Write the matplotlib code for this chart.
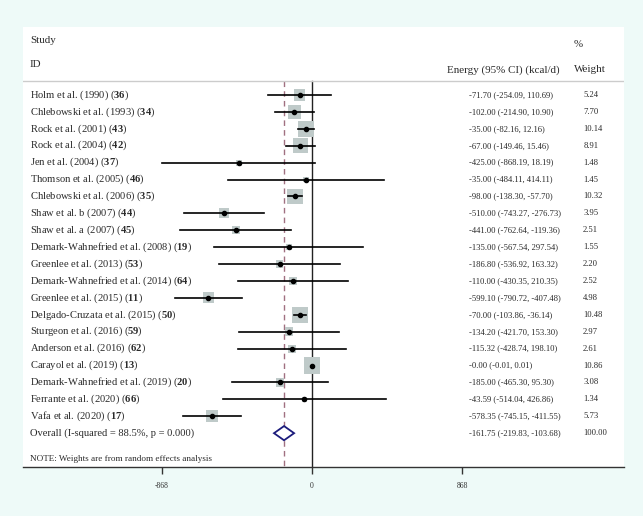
import matplotlib
matplotlib.use("Agg")
import matplotlib.pyplot as plt
import matplotlib.transforms as mtransforms

plt.rcParams['font.family'] = ['Liberation Serif', 'DejaVu Serif']
plt.rcParams['mathtext.fontset'] = 'custom'
plt.rcParams['mathtext.rm'] = 'Liberation Serif'
plt.rcParams['mathtext.bf'] = 'Liberation Serif:bold'

# study labels and reference numbers
studies = ["Holm et al. (1990)", "Chlebowski et al. (1993)", "Rock et al. (2001)",
           "Rock et al. (2004)", "Jen et al. (2004)", "Thomson et al. (2005)",
           "Chlebowski et al. (2006)", "Shaw et al. b (2007)", "Shaw et al. a (2007)",
           "Demark-Wahnefried et al. (2008)", "Greenlee et al. (2013)",
           "Demark-Wahnefried et al. (2014)", "Greenlee et al. (2015)",
           "Delgado-Cruzata et al. (2015)", "Sturgeon et al. (2016)",
           "Anderson et al. (2016)", "Carayol et al. (2019)",
           "Demark-Wahnefried et al. (2019)", "Ferrante et al. (2020)", "Vafa et al. (2020)"]
refs = ["36", "34", "43", "42", "37", "46", "35", "44", "45", "19",
        "53", "64", "11", "50", "59", "62", "13", "20", "66", "17"]

es = [-71.70, -102.00, -35.00, -67.00, -425.00, -35.00, -98.00, -510.00, -441.00, -135.00,
      -186.80, -110.00, -599.10, -70.00, -134.20, -115.32, -0.00, -185.00, -43.59, -578.35]
lo = [-254.09, -214.90, -82.16, -149.46, -868.19, -484.11, -138.30, -743.27, -762.64, -567.54,
      -536.92, -430.35, -790.72, -103.86, -421.70, -428.74, -0.01, -465.30, -514.04, -745.15]
hi = [110.69, 10.90, 12.16, 15.46, 18.19, 414.11, -57.70, -276.73, -119.36, 297.54,
      163.32, 210.35, -407.48, -36.14, 153.30, 198.10, 0.01, 95.30, 426.86, -411.55]
weights = [5.24, 7.70, 10.14, 8.91, 1.48, 1.45, 10.32, 3.95, 2.51, 1.55,
           2.20, 2.52, 4.98, 10.48, 2.97, 2.61, 10.86, 3.08, 1.34, 5.73]

overall_es, overall_lo, overall_hi = -161.75, -219.83, -103.68
overall_label = "Overall (I-squared = 88.5%, p = 0.000)"
xticks = [-868, 0, 868]

bg = '#eefaf8'
txt = '#2a2a2a'
fig = plt.figure(figsize=(6.43, 5.16), dpi=100, facecolor=bg)
ax = fig.add_axes([23 / 643, (516 - 467) / 516, 601 / 643, 440 / 516])
ax.set_facecolor('white')
ax.set_xlim(-1672, 1805)
ax.set_ylim(22.0, -4.02)

n = len(studies)
rows = list(range(n))

# reference lines
ax.plot([0, 0], [-0.83, 22.0], color='#222222', lw=1.0, zorder=2)
ax.plot([overall_es, overall_es], [-0.83, 22.0], color='#a07080', lw=1.0,
        ls=(0, (4, 3)), zorder=1)
ax.axhline(-0.83, color='#cccccc', lw=1.0)

# boxes, CIs and points
sizes = [12.5 * w for w in weights]
ax.scatter(es, rows, s=sizes, marker='s', color='#bfcac9', edgecolors='none', zorder=3)
for i in rows:
    ax.plot([lo[i], hi[i]], [i, i], color='black', lw=1.2, zorder=4)
ax.plot(es, rows, 'o', color='black', ms=3.0, zorder=5)

# overall diamond
ax.fill([overall_lo, overall_es, overall_hi, overall_es, overall_lo],
        [n, n - 0.42, n, n + 0.42, n], facecolor='white', edgecolor='#1c1c7c',
        lw=1.3, zorder=5)

trans = mtransforms.blended_transform_factory(ax.transAxes, ax.transData)
fs = 7.6
fs_head = 7.9
fs_small = 6.2

# headers
ax.text(0.0116, -3.25, "Study", transform=trans, fontsize=fs_head, va='center', color=txt)
ax.text(0.0116, -1.78, "ID", transform=trans, fontsize=fs_head, va='center', color=txt)
ax.text(0.705, -1.48, "Energy (95% CI) (kcal/d)", transform=trans, fontsize=fs_head,
        va='center', color=txt)
ax.text(0.917, -2.96, "%", transform=trans, fontsize=fs_head, va='center', color=txt)
ax.text(0.917, -1.48, "Weight", transform=trans, fontsize=fs_head, va='center', color=txt)

for i in rows:
    ax.text(0.0116, i, studies[i] + r" ($\mathbf{" + refs[i] + "}$)", transform=trans,
            fontsize=fs, va='center', color=txt)
    ax.text(0.742, i, "%.2f (%.2f, %.2f)" % (es[i], lo[i], hi[i]), transform=trans,
            fontsize=fs_small, va='center', color=txt)
    ax.text(0.932, i, "%.2f" % weights[i], transform=trans,
            fontsize=fs_small, va='center', color=txt)

ax.text(0.0116, n, overall_label, transform=trans, fontsize=fs, va='center', color=txt)
ax.text(0.742, n, "%.2f (%.2f, %.2f)" % (overall_es, overall_lo, overall_hi),
        transform=trans, fontsize=fs_small, va='center', color=txt)
ax.text(0.932, n, "100.00", transform=trans, fontsize=fs_small, va='center', color=txt)
ax.text(0.0116, 21.54, "NOTE: Weights are from random effects analysis", transform=trans,
        fontsize=6.6, va='center', color=txt)

# axis
for side in ['top', 'left', 'right']:
    ax.spines[side].set_visible(False)
ax.spines['bottom'].set_color('#333333')
ax.spines['bottom'].set_linewidth(1.0)
ax.set_yticks([])
ax.set_xticks(xticks)
ax.set_xticklabels([str(t) for t in xticks])
ax.tick_params(axis='x', direction='out', length=5, width=1, color='#333333',
               labelsize=5.5, labelcolor='#333333', pad=6)

fig.savefig("out.png", dpi=100, facecolor=bg)
